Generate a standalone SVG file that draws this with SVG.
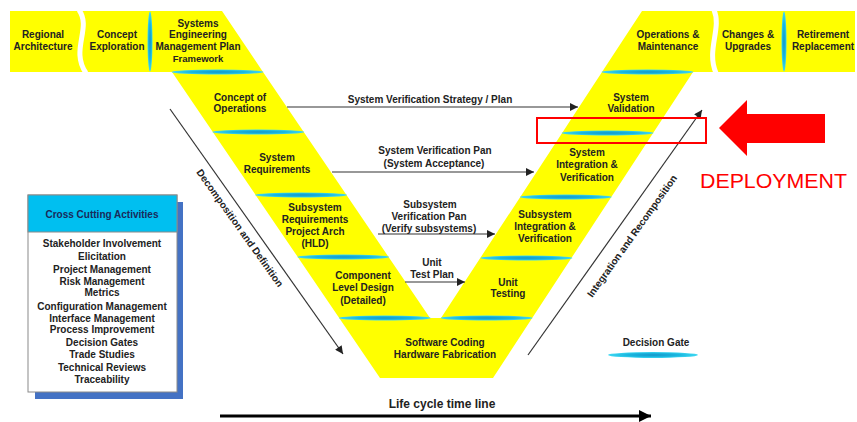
<svg xmlns="http://www.w3.org/2000/svg" width="857" height="422" viewBox="0 0 857 422">
<defs>
<radialGradient id="gate" cx="0.5" cy="0.5" r="0.5">
<stop offset="0" stop-color="#1596c8"/>
<stop offset="0.6" stop-color="#1ab8e0"/>
<stop offset="1" stop-color="#40d8f2"/>
</radialGradient>
<marker id="ah" viewBox="0 0 10 10" refX="10" refY="5" markerWidth="10" markerHeight="8" markerUnits="userSpaceOnUse" orient="auto">
<path d="M0,0 L10,5 L0,10 z" fill="#222"/>
</marker>
<marker id="ahBig" viewBox="0 0 10 10" refX="10" refY="5" markerWidth="16" markerHeight="12" markerUnits="userSpaceOnUse" orient="auto">
<path d="M0,0 L10,5 L0,10 z" fill="#000"/>
</marker>
<style>
.t{font-family:"Liberation Sans",Arial,sans-serif;font-weight:bold;font-size:10px;fill:#222;text-anchor:middle}
.g{fill:url(#gate)}
.ln{stroke:#333;stroke-width:1.2;fill:none}
.sep{stroke:#fff;stroke-width:5;fill:none}
</style>
</defs>
<rect width="857" height="422" fill="#fff"/>

<g id="v-shape">
<polygon points="10,11 222,11 263,72 430,318 441,318 602,72 642,11 855,11 855,72 693,72 493,378 380,378 172,72 10,72" fill="#ffff00"/>
<path class="sep" d="M79,10 C92,28 70,50 86,73"/>
<path class="sep" d="M714,10 C722,28 706,50 716,73"/>
<ellipse class="g" cx="150" cy="41.5" rx="2.5" ry="30"/>
<ellipse class="g" cx="784" cy="41.5" rx="2.5" ry="30"/>
</g>

<g id="gates">
<ellipse class="g" cx="217.5" cy="72" rx="46" ry="2.5"/>
<ellipse class="g" cx="258.3" cy="132" rx="46" ry="2.5"/>
<ellipse class="g" cx="301.1" cy="195" rx="46" ry="2.5"/>
<ellipse class="g" cx="343.3" cy="257" rx="46" ry="2.5"/>
<ellipse class="g" cx="384.8" cy="318" rx="46" ry="2.5"/>
<ellipse class="g" cx="647.5" cy="72" rx="46" ry="2.5"/>
<ellipse class="g" cx="607.6" cy="133" rx="46" ry="2.5"/>
<ellipse class="g" cx="565.8" cy="197" rx="46" ry="2.5"/>
<ellipse class="g" cx="526.5" cy="258" rx="46" ry="2.5"/>
<ellipse class="g" cx="486.6" cy="318" rx="46" ry="2.5"/>
</g>

<g id="regional-architecture"><text class="t" x="43" y="37.5">Regional</text><text class="t" x="43" y="49.5">Architecture</text></g>
<g id="concept-exploration"><text class="t" x="117" y="37.5">Concept</text><text class="t" x="117" y="49.5">Exploration</text></g>
<g id="semp"><text class="t" x="198" y="26.5">Systems</text><text class="t" x="198" y="38">Engineering</text><text class="t" x="198" y="49.5">Management Plan</text><text class="t" x="198" y="62" style="font-size:9.5px">Framework</text></g>
<g id="operations-maintenance"><text class="t" x="668" y="37.5">Operations &amp;</text><text class="t" x="668" y="49.5">Maintenance</text></g>
<g id="changes-upgrades"><text class="t" x="748" y="37.5">Changes &amp;</text><text class="t" x="748" y="49.5">Upgrades</text></g>
<g id="retirement-replacement"><text class="t" x="823" y="37.5">Retirement</text><text class="t" x="823" y="49.5">Replacement</text></g>
<g id="concept-of-operations"><text class="t" x="240" y="100.5">Concept of</text><text class="t" x="240" y="112">Operations</text></g>
<g id="system-requirements"><text class="t" x="277" y="160.5">System</text><text class="t" x="277" y="172.5">Requirements</text></g>
<g id="subsystem-requirements"><text class="t" x="315" y="210.5">Subsystem</text><text class="t" x="315" y="223">Requirements</text><text class="t" x="315" y="235">Project Arch</text><text class="t" x="315" y="247">(HLD)</text></g>
<g id="component-level-design"><text class="t" x="363" y="278.5">Component</text><text class="t" x="363" y="290.5">Level Design</text><text class="t" x="363" y="303.5">(Detailed)</text></g>
<g id="software-coding"><text class="t" x="445" y="345.5">Software Coding</text><text class="t" x="445" y="357.5">Hardware Fabrication</text></g>
<g id="system-validation"><text class="t" x="631" y="100.5">System</text><text class="t" x="631" y="112">Validation</text></g>
<g id="system-integration"><text class="t" x="587" y="155.5">System</text><text class="t" x="587" y="167.5">Integration &amp;</text><text class="t" x="587" y="180.5">Verification</text></g>
<g id="subsystem-integration"><text class="t" x="545" y="217.5">Subsystem</text><text class="t" x="545" y="229.5">Integration &amp;</text><text class="t" x="545" y="241.5">Verification</text></g>
<g id="unit-testing"><text class="t" x="508" y="285.5">Unit</text><text class="t" x="508" y="296.5">Testing</text></g>

<g id="connectors">
<line class="ln" x1="287" y1="107" x2="578" y2="107" marker-end="url(#ah)"/>
<line class="ln" x1="332" y1="172" x2="534" y2="172" marker-end="url(#ah)"/>
<line class="ln" x1="378" y1="234" x2="495" y2="234" marker-end="url(#ah)"/>
<line class="ln" x1="405" y1="282" x2="465" y2="282" marker-end="url(#ah)"/>
<line class="ln" x1="170" y1="109" x2="343" y2="354" marker-end="url(#ah)"/>
<line class="ln" x1="528" y1="355" x2="702" y2="110" marker-end="url(#ah)"/>
<line x1="220" y1="416" x2="651" y2="416" stroke="#000" stroke-width="3" marker-end="url(#ahBig)"/>
<text class="t" x="430" y="102.5">System Verification Strategy / Plan</text>
<text class="t" x="435" y="153.5">System Verification Pan</text>
<text class="t" x="434" y="166.5">(System Acceptance)</text>
<text class="t" x="430" y="207.5">Subsystem</text>
<text class="t" x="429" y="219.5">Verification Pan</text>
<text class="t" x="429" y="231.5">(Verify subsystems)</text>
<text class="t" x="432" y="265.5">Unit</text>
<text class="t" x="432" y="277.5">Test Plan</text>
<text class="t" transform="translate(240,228) rotate(54.6)" y="3.5">Decomposition and Definition</text>
<text class="t" transform="translate(632,236) rotate(-54.6)" y="3.5">Integration and Recomposition</text>
<text class="t" x="442" y="408" style="font-size:12px">Life cycle time line</text>
</g>

<g id="legend">
<text class="t" x="656" y="345.5">Decision Gate</text>
<ellipse class="g" cx="653" cy="355" rx="45" ry="3"/>
</g>

<g id="cross-cutting">
<rect x="35" y="202" width="148" height="197" fill="#4472c4"/>
<rect x="28" y="195" width="149" height="197" fill="#fff" stroke="#8a8a8a" stroke-width="1"/>
<rect x="28" y="195" width="149" height="37" fill="#00bff0" stroke="#8a8a8a" stroke-width="1"/>
<text class="t" x="102" y="217.5" style="fill:#1a2a5a">Cross Cutting Activities</text>
<text class="t" x="102" y="246.5">Stakeholder Involvement</text>
<text class="t" x="102" y="259.5">Elicitation</text>
<text class="t" x="102" y="272.5">Project Management</text>
<text class="t" x="102" y="284.5">Risk Management</text>
<text class="t" x="102" y="295.5">Metrics</text>
<text class="t" x="102" y="309.5">Configuration Management</text>
<text class="t" x="102" y="321.5">Interface Management</text>
<text class="t" x="102" y="332.5">Process Improvement</text>
<text class="t" x="102" y="345.5">Decision Gates</text>
<text class="t" x="102" y="357.5">Trade Studies</text>
<text class="t" x="102" y="370.5">Technical Reviews</text>
<text class="t" x="102" y="382.5">Traceability</text>
</g>

<g id="deployment">
<rect x="537" y="118" width="169" height="25" fill="none" stroke="#ff0000" stroke-width="2"/>
<polygon points="719,128 747,100 747,114 825,114 825,143 747,143 747,156" fill="#ff0000"/>
<text x="700" y="188" textLength="147" lengthAdjust="spacingAndGlyphs" style="font-family:'Liberation Sans',Arial,sans-serif;font-size:21px;fill:#ff0000">DEPLOYMENT</text>
</g>
</svg>
